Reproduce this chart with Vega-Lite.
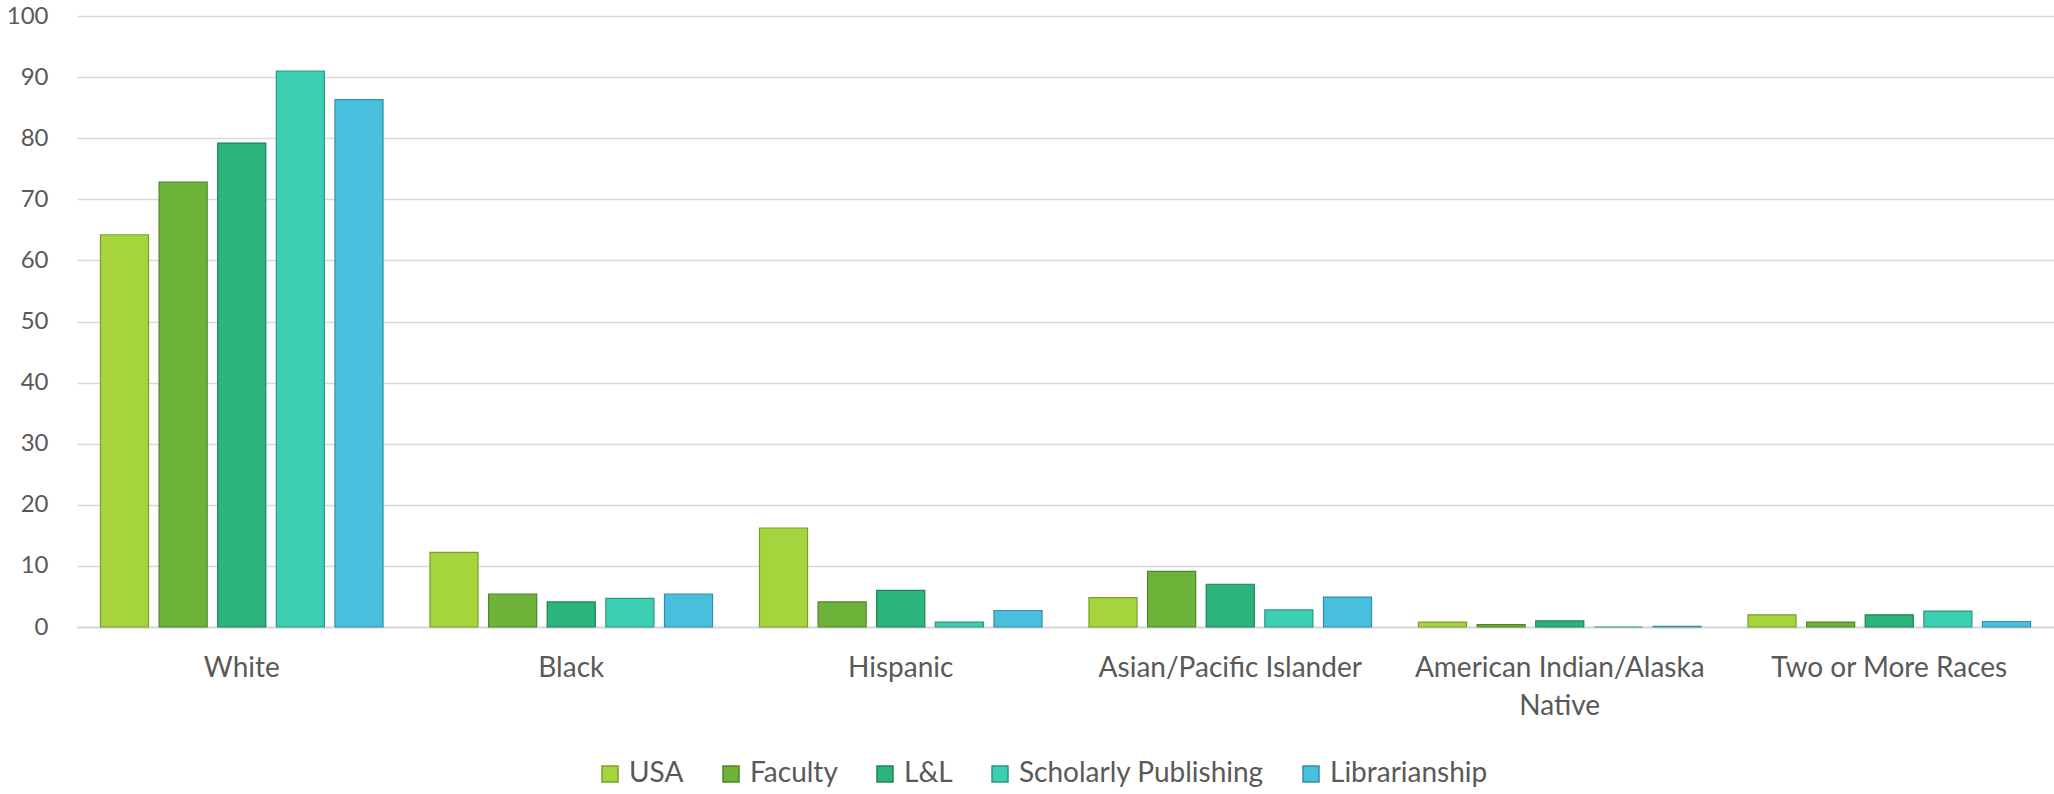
{
  "$schema": "https://vega.github.io/schema/vega-lite/v6.json",
  "width": 1977,
  "height": 611,
  "autosize": "none",
  "padding": {"left": 77, "top": 16, "right": 0, "bottom": 167},
  "background": "white",
  "data": {
    "values": [
      {"race": "White", "series": "USA", "value": 64.2},
      {"race": "White", "series": "Faculty", "value": 72.8},
      {"race": "White", "series": "L&L", "value": 79.2},
      {"race": "White", "series": "Scholarly Publishing", "value": 91.0},
      {"race": "White", "series": "Librarianship", "value": 86.3},
      {"race": "Black", "series": "USA", "value": 12.2},
      {"race": "Black", "series": "Faculty", "value": 5.4},
      {"race": "Black", "series": "L&L", "value": 4.1},
      {"race": "Black", "series": "Scholarly Publishing", "value": 4.7},
      {"race": "Black", "series": "Librarianship", "value": 5.4},
      {"race": "Hispanic", "series": "USA", "value": 16.2},
      {"race": "Hispanic", "series": "Faculty", "value": 4.1},
      {"race": "Hispanic", "series": "L&L", "value": 6.0},
      {"race": "Hispanic", "series": "Scholarly Publishing", "value": 0.8},
      {"race": "Hispanic", "series": "Librarianship", "value": 2.7},
      {"race": "Asian/Pacific Islander", "series": "USA", "value": 4.8},
      {"race": "Asian/Pacific Islander", "series": "Faculty", "value": 9.1},
      {"race": "Asian/Pacific Islander", "series": "L&L", "value": 7.0},
      {"race": "Asian/Pacific Islander", "series": "Scholarly Publishing", "value": 2.8},
      {"race": "Asian/Pacific Islander", "series": "Librarianship", "value": 4.9},
      {"race": "American Indian/Alaska Native", "series": "USA", "value": 0.8},
      {"race": "American Indian/Alaska Native", "series": "Faculty", "value": 0.4},
      {"race": "American Indian/Alaska Native", "series": "L&L", "value": 1.0},
      {"race": "American Indian/Alaska Native", "series": "Scholarly Publishing", "value": 0},
      {"race": "American Indian/Alaska Native", "series": "Librarianship", "value": 0.1},
      {"race": "Two or More Races", "series": "USA", "value": 2.0},
      {"race": "Two or More Races", "series": "Faculty", "value": 0.8},
      {"race": "Two or More Races", "series": "L&L", "value": 2.0},
      {"race": "Two or More Races", "series": "Scholarly Publishing", "value": 2.6},
      {"race": "Two or More Races", "series": "Librarianship", "value": 0.9}
    ]
  },
  "mark": {"type": "bar", "strokeWidth": 1.2},
  "encoding": {
    "x": {
      "field": "race",
      "type": "nominal",
      "sort": ["White", "Black", "Hispanic", "Asian/Pacific Islander", "American Indian/Alaska Native", "Two or More Races"],
      "scale": {"paddingInner": 0, "paddingOuter": 0},
      "axis": {
        "title": null,
        "labelAngle": 0,
        "ticks": false,
        "domainColor": "#d9d9d9",
        "domainWidth": 2,
        "grid": false,
        "labelFont": "Lato",
        "labelFontSize": 28,
        "labelColor": "#595959",
        "labelPadding": 27,
        "labelLineHeight": 38,
        "labelLimit": 0,
        "labelExpr": "datum.label == 'American Indian/Alaska Native' ? ['American Indian/Alaska', 'Native'] : datum.label"
      }
    },
    "xOffset": {
      "field": "series",
      "type": "nominal",
      "sort": ["USA", "Faculty", "L&L", "Scholarly Publishing", "Librarianship"],
      "scale": {"paddingInner": 0.18, "paddingOuter": 0.4}
    },
    "y": {
      "field": "value",
      "type": "quantitative",
      "scale": {"domain": [0, 100], "nice": false},
      "axis": {
        "title": null,
        "values": [0, 10, 20, 30, 40, 50, 60, 70, 80, 90, 100],
        "domain": false,
        "ticks": false,
        "gridColor": "#d9d9d9",
        "gridWidth": 1.5,
        "labelFont": "Lato",
        "labelFontSize": 24,
        "labelColor": "#595959",
        "labelPadding": 29
      }
    },
    "color": {
      "field": "series",
      "type": "nominal",
      "sort": ["USA", "Faculty", "L&L", "Scholarly Publishing", "Librarianship"],
      "scale": {
        "domain": ["USA", "Faculty", "L&L", "Scholarly Publishing", "Librarianship"],
        "range": ["#a5d43c", "#6db33a", "#2bb47c", "#3ccfb2", "#48bfdd"]
      },
      "legend": {
        "title": null,
        "orient": "none",
        "legendX": 519,
        "legendY": 744,
        "direction": "horizontal",
        "symbolType": "square",
        "symbolSize": 256,
        "symbolOpacity": 1,
        "labelFont": "Lato",
        "labelFontSize": 28,
        "labelColor": "#595959",
        "labelLimit": 0,
        "columnPadding": 33,
        "labelOffset": 5
      }
    },
    "stroke": {
      "field": "series",
      "type": "nominal",
      "sort": ["USA", "Faculty", "L&L", "Scholarly Publishing", "Librarianship"],
      "scale": {
        "domain": ["USA", "Faculty", "L&L", "Scholarly Publishing", "Librarianship"],
        "range": ["#7d9e2c", "#4f852a", "#1f8258", "#2c9882", "#348ea6"]
      },
      "legend": {
        "title": null,
        "orient": "none",
        "legendX": 519,
        "legendY": 744,
        "direction": "horizontal",
        "symbolType": "square",
        "symbolSize": 256,
        "labelFont": "Lato",
        "labelFontSize": 28,
        "labelColor": "#595959",
        "labelLimit": 0,
        "columnPadding": 33,
        "labelOffset": 5
      }
    }
  },
  "config": {"view": {"stroke": null}}
}
